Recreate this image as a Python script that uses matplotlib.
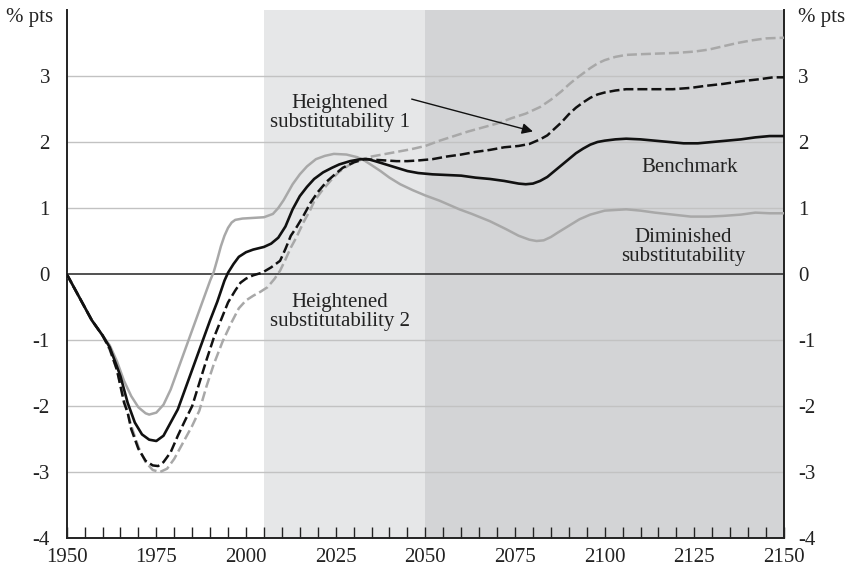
import matplotlib
matplotlib.use("Agg")
import matplotlib.pyplot as plt

plt.rcParams['font.family'] = ['Liberation Serif', 'DejaVu Serif']

# Benchmark (black solid)
bench_years = [1950, 1954, 1957, 1960, 1962, 1964, 1965, 1967, 1969, 1971, 1973, 1975, 1977,
               1979, 1981, 1984, 1986, 1988, 1990, 1992, 1994, 1995, 1996.5, 1998, 2000, 2002,
               2005, 2007, 2009, 2011, 2013, 2015, 2017, 2019, 2021.5, 2024, 2026, 2029, 2032,
               2034, 2036, 2039, 2042, 2045, 2048, 2052, 2056, 2060, 2064, 2068, 2072, 2076,
               2078, 2080, 2082, 2084, 2086, 2088, 2090, 2092, 2094, 2096, 2098, 2100, 2103,
               2106, 2110, 2114, 2118, 2122, 2126, 2130, 2134, 2138, 2142, 2146, 2150]
bench_vals = [0.00, -0.40, -0.70, -0.93, -1.11, -1.40, -1.55, -1.95, -2.25, -2.43, -2.51, -2.53,
              -2.45, -2.25, -2.05, -1.60, -1.30, -1.00, -0.70, -0.42, -0.10, 0.02, 0.15, 0.26,
              0.33, 0.37, 0.41, 0.46, 0.55, 0.72, 0.98, 1.18, 1.32, 1.44, 1.54, 1.61, 1.66,
              1.71, 1.74, 1.74, 1.71, 1.66, 1.61, 1.56, 1.53, 1.51, 1.50, 1.49, 1.46, 1.44,
              1.41, 1.37, 1.36, 1.37, 1.41, 1.47, 1.56, 1.65, 1.74, 1.83, 1.90, 1.96, 2.00,
              2.02, 2.04, 2.05, 2.04, 2.02, 2.00, 1.98, 1.98, 2.00, 2.02, 2.04, 2.07, 2.09, 2.09]

# Heightened substitutability 1 (black dashed)
hs1_years = [1950, 1954, 1957, 1960, 1962, 1964, 1966, 1967, 1968, 1970, 1972, 1974, 1975.5,
             1977, 1979, 1981, 1983, 1985, 1987, 1989, 1991, 1993, 1995, 1997, 1998.5, 2000,
             2002, 2004.5, 2007, 2009.5, 2011, 2012.5, 2014, 2016, 2018, 2020, 2022.5, 2025,
             2027, 2030, 2033, 2036, 2039, 2042, 2045, 2048, 2052, 2056, 2060, 2064, 2068,
             2072, 2076, 2079, 2082, 2084, 2086, 2088, 2090, 2092, 2094, 2096, 2098, 2100,
             2103, 2106, 2112, 2119, 2124, 2128, 2133, 2138, 2143, 2147, 2150]
hs1_vals = [0.00, -0.40, -0.70, -0.93, -1.13, -1.45, -1.95, -2.10, -2.35, -2.65, -2.83, -2.90,
            -2.91, -2.85, -2.70, -2.45, -2.22, -2.00, -1.65, -1.30, -0.97, -0.70, -0.43, -0.25,
            -0.13, -0.07, -0.02, 0.02, 0.10, 0.20, 0.38, 0.58, 0.70, 0.88, 1.08, 1.24, 1.40,
            1.52, 1.61, 1.69, 1.74, 1.73, 1.72, 1.71, 1.71, 1.72, 1.74, 1.78, 1.81, 1.85,
            1.88, 1.92, 1.94, 1.97, 2.04, 2.10, 2.20, 2.30, 2.42, 2.52, 2.60, 2.67, 2.72,
            2.75, 2.78, 2.80, 2.80, 2.80, 2.82, 2.85, 2.88, 2.92, 2.95, 2.98, 2.98]

# Heightened substitutability 2 (grey dashed)
hs2_years = [1950, 1954, 1957, 1960, 1962, 1964, 1966, 1968, 1970, 1972, 1974, 1976, 1978,
             1980, 1982, 1985, 1987, 1989, 1991, 1993.5, 1996, 1998, 2000, 2002, 2004, 2006,
             2008, 2009.5, 2011, 2012.5, 2014, 2016, 2018, 2019, 2021, 2024, 2026, 2029, 2032,
             2035, 2039, 2043, 2046, 2050, 2054, 2058, 2062, 2066, 2070, 2074, 2078, 2082,
             2085, 2088, 2090, 2092, 2094, 2096, 2098, 2100, 2103, 2106, 2110, 2115, 2120,
             2125, 2129, 2133, 2137, 2141, 2145, 2150]
hs2_vals = [0.00, -0.40, -0.70, -0.93, -1.15, -1.45, -1.90, -2.30, -2.62, -2.85, -2.97, -3.00,
            -2.95, -2.80, -2.60, -2.30, -2.07, -1.70, -1.37, -1.02, -0.73, -0.52, -0.40, -0.33,
            -0.27, -0.20, -0.07, 0.05, 0.22, 0.40, 0.55, 0.78, 0.98, 1.10, 1.25, 1.44, 1.55,
            1.66, 1.73, 1.78, 1.82, 1.86, 1.89, 1.94, 2.02, 2.09, 2.16, 2.22, 2.28, 2.36,
            2.43, 2.53, 2.64, 2.77, 2.87, 2.96, 3.04, 3.12, 3.19, 3.24, 3.29, 3.32, 3.33,
            3.34, 3.35, 3.37, 3.40, 3.45, 3.50, 3.54, 3.57, 3.58]

# Diminished substitutability (grey solid)
dim_years = [1950, 1954, 1957, 1960, 1962, 1964, 1966, 1968, 1970, 1972, 1973, 1975, 1977,
             1979, 1981, 1983, 1984, 1986, 1988, 1990, 1991, 1992, 1993, 1994, 1995, 1996,
             1997, 1999, 2002, 2005, 2007.5, 2009, 2010.5, 2013, 2015, 2017, 2019.5, 2022,
             2024.5, 2028, 2031, 2033, 2035, 2037.5, 2040, 2043, 2046.5, 2050, 2054, 2059.5,
             2063, 2068, 2072.5, 2076, 2079, 2081, 2083, 2085, 2087, 2090, 2093, 2096, 2100,
             2106, 2110, 2114, 2119, 2124, 2129, 2133, 2138, 2142, 2146, 2150]
dim_vals = [0.00, -0.40, -0.70, -0.93, -1.08, -1.32, -1.62, -1.85, -2.02, -2.11, -2.13, -2.10,
            -1.98, -1.75, -1.45, -1.15, -1.00, -0.70, -0.40, -0.10, 0.03, 0.22, 0.42, 0.58,
            0.70, 0.78, 0.82, 0.84, 0.85, 0.86, 0.91, 1.00, 1.12, 1.36, 1.51, 1.63, 1.74,
            1.79, 1.82, 1.81, 1.77, 1.72, 1.65, 1.56, 1.46, 1.36, 1.27, 1.19, 1.11, 0.98,
            0.91, 0.80, 0.68, 0.58, 0.52, 0.50, 0.51, 0.56, 0.63, 0.73, 0.83, 0.90, 0.96,
            0.98, 0.96, 0.93, 0.90, 0.87, 0.87, 0.88, 0.90, 0.93, 0.92, 0.92]

x_ticks = list(range(1950, 2151, 5))
x_labels = [str(y) if y % 25 == 0 else '' for y in x_ticks]
y_ticks = [-4, -3, -2, -1, 0, 1, 2, 3]
y_labels = ['-4', '-3', '-2', '-1', '0', '1', '2', '3']

GREY = '#a8a8a8'
FS = 15

fig = plt.figure(figsize=(8.46, 5.68), dpi=100)
ax = fig.add_axes([0.0788, 0.0528, 0.8479, 0.9296])
ax.set_xlim(1950, 2150)
ax.set_ylim(-4, 4)

# shaded projection periods
ax.axvspan(2005, 2050, color='#e6e7e8', lw=0, zorder=0)
ax.axvspan(2050, 2150, color='#d3d4d6', lw=0, zorder=0)

for v in y_ticks:
    if v in (-4, 0):
        continue
    ax.axhline(v, color='#c2c2c2', lw=1.0, zorder=1)
ax.axhline(0, color='#333333', lw=1.2, zorder=1.5)

ax.plot(dim_years, dim_vals, color=GREY, lw=1.8, zorder=3)
ax.plot(hs2_years, hs2_vals, color=GREY, lw=1.8, dashes=(4, 1.6), zorder=3)
ax.plot(hs1_years, hs1_vals, color='#111111', lw=1.8, dashes=(4, 1.6), zorder=4)
ax.plot(bench_years, bench_vals, color='#111111', lw=1.9, zorder=5)

ax.text(2026.2, 2.44, 'Heightened\nsubstitutability 1', ha='center', va='center',
        fontsize=FS, linespacing=1.0, color='#222222')
ax.text(2026.1, -0.57, 'Heightened\nsubstitutability 2', ha='center', va='center',
        fontsize=FS, linespacing=1.0, color='#222222')
ax.text(2123.6, 1.61, 'Benchmark', ha='center', va='center', fontsize=FS, color='#222222')
ax.text(2122, 0.41, 'Diminished\nsubstitutability', ha='center', va='center',
        fontsize=FS, linespacing=1.0, color='#222222')
ax.annotate('', xy=(2080, 2.16), xytext=(2046.2, 2.65),
            arrowprops=dict(arrowstyle='-|>', color='#111111', lw=1.0,
                            mutation_scale=16, shrinkA=0, shrinkB=0))

ax.spines['top'].set_visible(False)
for s in ('left', 'right', 'bottom'):
    ax.spines[s].set_linewidth(1.4)
    ax.spines[s].set_color('#222222')

ax.set_xticks(x_ticks)
ax.set_xticklabels(x_labels, fontsize=FS)
ax.tick_params(axis='x', direction='in', length=8, width=1.0, pad=7, colors='#222222')
ax.set_yticks(y_ticks)
ax.set_yticklabels(y_labels, fontsize=FS)
ax.tick_params(axis='y', length=0, pad=12, colors='#222222')

ax2 = ax.twinx()
ax2.set_ylim(-4, 4)
ax2.set_yticks(y_ticks)
ax2.set_yticklabels(y_labels, fontsize=FS)
ax2.tick_params(axis='y', length=0, pad=10, colors='#222222')
for s in ax2.spines.values():
    s.set_visible(False)

ax.text(-0.019, 0.985, '% pts', transform=ax.transAxes, ha='right', va='center',
        fontsize=FS, color='#222222')
ax.text(1.019, 0.985, '% pts', transform=ax.transAxes, ha='left', va='center',
        fontsize=FS, color='#222222')

fig.savefig('out.png', dpi=100)
